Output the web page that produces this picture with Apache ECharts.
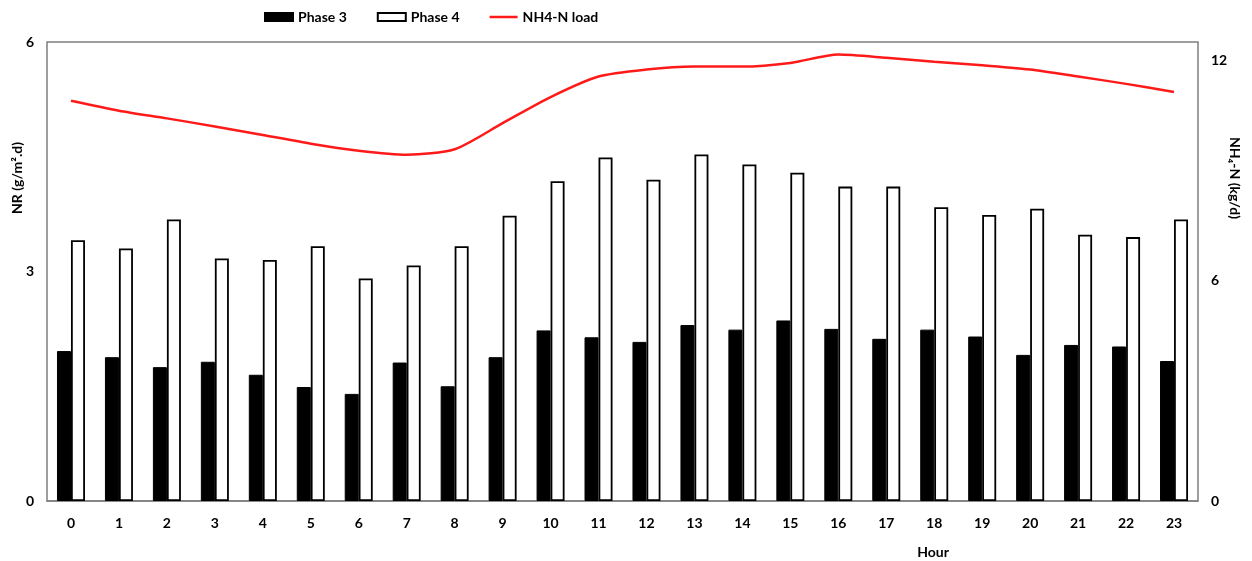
<!DOCTYPE html>
<html>
<head>
<meta charset="utf-8">
<script src="https://cdn.jsdelivr.net/npm/echarts@6/dist/echarts.min.js"></script>
<style>html,body{margin:0;padding:0;background:#fff;}#c{width:1252px;height:561px;}</style>
</head>
<body>
<div id="c"></div>
<script>
const hours = ['0','1','2','3','4','5','6','7','8','9','10','11','12','13','14','15','16','17','18','19','20','21','22','23'];
const phase3 = [1.96,1.88,1.75,1.82,1.65,1.49,1.40,1.81,1.50,1.88,2.23,2.14,2.08,2.30,2.24,2.36,2.25,2.12,2.24,2.15,1.91,2.04,2.02,1.83];
const phase4 = [3.41,3.30,3.68,3.17,3.15,3.33,2.91,3.08,3.33,3.73,4.18,4.49,4.20,4.53,4.40,4.29,4.11,4.11,3.84,3.74,3.82,3.48,3.45,3.68];
const nh4Load = [10.90,10.63,10.42,10.20,9.97,9.73,9.54,9.43,9.58,10.29,11.00,11.56,11.75,11.83,11.83,11.93,12.16,12.07,11.96,11.87,11.75,11.56,11.36,11.14];
const leftTicks = [0,3,6];
const rightTicks = [0,6,12];

const FONT = 'Lato';
const chart = echarts.init(document.getElementById('c'));
chart.setOption({
  backgroundColor: '#fff',
  animation: false,
  textStyle: { fontFamily: FONT },
  legend: {
    left: 264, top: 10, padding: 0,
    itemWidth: 28, itemHeight: 8, itemGap: 30,
    textStyle: { fontFamily: FONT, fontWeight: 'bold', fontSize: 14, color: '#000' },
    data: [
      { name: 'Phase 3', icon: 'rect' },
      { name: 'Phase 4', icon: 'rect' },
      { name: 'NH4-N load', icon: 'path://M0,0 L28,0 L28,2.5 L0,2.5 Z' }
    ]
  },
  grid: { left: 47, right: 54, top: 42, bottom: 60, show: true, borderColor: '#7f7f7f', borderWidth: 1.5, backgroundColor: 'transparent' },
  xAxis: {
    type: 'category', data: hours,
    axisLine: { lineStyle: { color: '#7f7f7f', width: 1.5 } },
    axisTick: { show: false },
    axisLabel: { color: '#000', fontWeight: 'bold', fontSize: 14, margin: 15, fontFamily: FONT }
  },
  yAxis: [
    {
      type: 'value', min: 0, max: 6, interval: 3,
      axisLine: { show: false }, axisTick: { show: false }, splitLine: { show: false },
      axisLabel: { color: '#000', fontWeight: 'bold', fontSize: 14, margin: 13, fontFamily: FONT,
        formatter: v => leftTicks.includes(v) ? String(v) : '' }
    },
    {
      type: 'value', min: 0, max: 12.5, interval: 6, position: 'right',
      axisLine: { show: false }, axisTick: { show: false }, splitLine: { show: false },
      axisLabel: { color: '#000', fontWeight: 'bold', fontSize: 14, margin: 13, fontFamily: FONT,
        formatter: v => rightTicks.includes(v) ? String(v) : '' }
    }
  ],
  graphic: [
    { type: 'text', x: 17, y: 178, rotation: Math.PI / 2,
      style: { text: 'NR (g/m².d)', fill: '#000', font: 'bold 14px ' + FONT, textAlign: 'center', textVerticalAlign: 'middle' } },
    { type: 'text', x: 1235, y: 178, rotation: -Math.PI / 2,
      style: { text: 'NH₄-N (kg/d)', fill: '#000', font: 'bold 14px ' + FONT, textAlign: 'center', textVerticalAlign: 'middle' } },
    { type: 'text', x: 933, y: 552,
      style: { text: 'Hour', fill: '#000', font: 'bold 14px ' + FONT, textAlign: 'center', textVerticalAlign: 'middle' } }
  ],
  series: [
    { name: 'Phase 3', type: 'bar', data: phase3, barWidth: 14, barGap: '0%',
      itemStyle: { color: '#000', borderColor: '#000', borderWidth: 1 } },
    { name: 'Phase 4', type: 'bar', data: phase4, barWidth: 14,
      itemStyle: { color: '#fff', borderColor: '#000', borderWidth: 1.8 } },
    { name: 'NH4-N load', type: 'line', yAxisIndex: 1, data: nh4Load, smooth: 0.25,
      symbol: 'none', lineStyle: { color: '#ff1a1a', width: 2.5 }, itemStyle: { color: '#ff1a1a' } }
  ]
});
</script>
</body>
</html>
